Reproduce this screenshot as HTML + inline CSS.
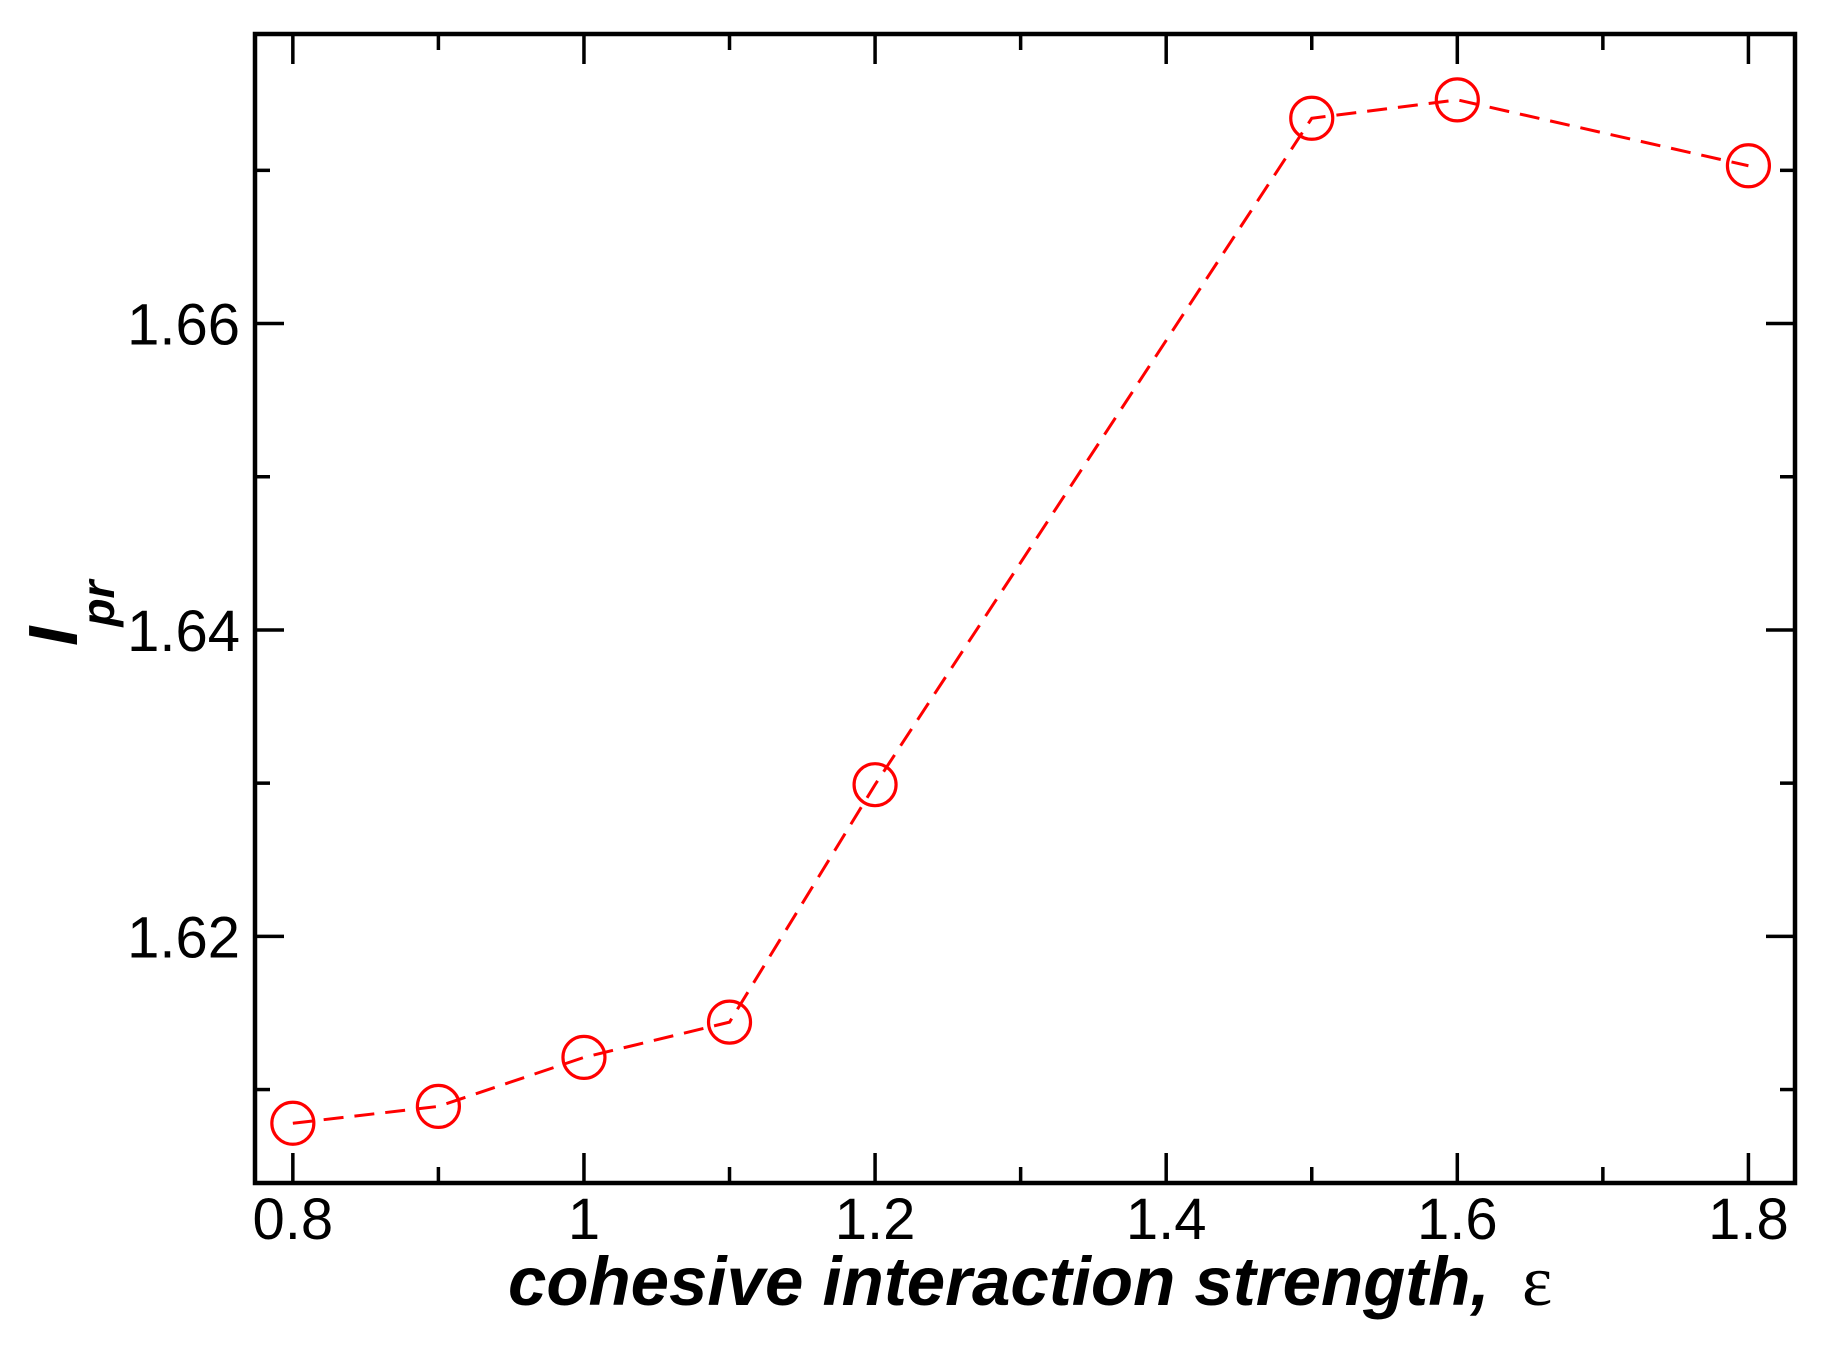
<!DOCTYPE html>
<html><head><meta charset="utf-8"><style>
html,body{margin:0;padding:0;background:#fff;}
svg{display:block;}
text{font-family:"Liberation Sans",sans-serif;}
</style></head><body>
<svg id="chart" width="1826" height="1352" viewBox="0 0 1826 1352" xmlns="http://www.w3.org/2000/svg">
<g id="axes"></g>
<g id="series"></g>
<text x="508" y="1305" font-size="69" font-weight="bold" font-style="italic">cohesive interaction strength,</text>
<text x="1522" y="1305" font-size="72" style="font-family:'Liberation Serif',serif">ε</text>
<text transform="translate(77,646) rotate(-90)" font-size="70" font-weight="bold" font-style="italic">I<tspan font-size="46" dy="37">pr</tspan></text>
</svg>
<script>
const xValues = [0.8, 0.9, 1.0, 1.1, 1.2, 1.5, 1.6, 1.8];
const yValues = [1.6078, 1.6089, 1.6121, 1.6144, 1.6299, 1.6734, 1.6746, 1.6703];
const xMajorTicks = [0.8, 1.0, 1.2, 1.4, 1.6, 1.8];
const xTickLabels = ["0.8", "1", "1.2", "1.4", "1.6", "1.8"];
const xMinorTicks = [0.9, 1.1, 1.3, 1.5, 1.7];
const yMajorTicks = [1.62, 1.64, 1.66];
const yTickLabels = ["1.62", "1.64", "1.66"];
const yMinorTicks = [1.61, 1.63, 1.65, 1.67];

const L = 255, R = 1795, T = 34, B = 1183;
const xMin = 0.774, xMax = 1.832, yMin = 1.6039, yMax = 1.6789;
function sx(v){ return L + (v - xMin) / (xMax - xMin) * (R - L); }
function sy(v){ return B - (v - yMin) / (yMax - yMin) * (B - T); }

const NS = "http://www.w3.org/2000/svg";
const axes = document.getElementById('axes');
const series = document.getElementById('series');
function mk(tag, attrs, parent){
  const e = document.createElementNS(NS, tag);
  for (const k in attrs) e.setAttribute(k, attrs[k]);
  parent.appendChild(e);
  return e;
}

const frame = mk('rect', {x:L, y:T, width:R-L, height:B-T, fill:'none', stroke:'#000', 'stroke-width':4.5}, axes);



xMajorTicks.forEach((v, i) => {
  const x = sx(v);
  const t1 = mk('line', {x1:x, y1:B, x2:x, y2:B-30, stroke:'#000', 'stroke-width':3.5}, axes);
  
  
  const t2 = mk('line', {x1:x, y1:T, x2:x, y2:T+30, stroke:'#000', 'stroke-width':3.5}, axes);
  
  
  const lb = mk('text', {x:x, y:1239, 'font-size':58, 'text-anchor':'middle'}, axes);
  lb.textContent = xTickLabels[i];
  
  
});
xMinorTicks.forEach(v => {
  const x = sx(v);
  const t1 = mk('line', {x1:x, y1:B, x2:x, y2:B-16, stroke:'#000', 'stroke-width':3.5}, axes);
  
  
  const t2 = mk('line', {x1:x, y1:T, x2:x, y2:T+16, stroke:'#000', 'stroke-width':3.5}, axes);
  
  
});
yMajorTicks.forEach((v, i) => {
  const y = sy(v);
  const t1 = mk('line', {x1:L, y1:y, x2:L+29, y2:y, stroke:'#000', 'stroke-width':3.5}, axes);
  
  
  const t2 = mk('line', {x1:R, y1:y, x2:R-29, y2:y, stroke:'#000', 'stroke-width':3.5}, axes);
  
  
  const lb = mk('text', {x:240, y:y+21, 'font-size':58, 'text-anchor':'end'}, axes);
  lb.textContent = yTickLabels[i];
  
  
});
yMinorTicks.forEach(v => {
  const y = sy(v);
  const t1 = mk('line', {x1:L, y1:y, x2:L+15, y2:y, stroke:'#000', 'stroke-width':3.5}, axes);
  
  
  const t2 = mk('line', {x1:R, y1:y, x2:R-15, y2:y, stroke:'#000', 'stroke-width':3.5}, axes);
  
  
});

const pts = xValues.map((v, i) => sx(v) + ',' + sy(yValues[i])).join(' ');
const line = mk('polyline', {points:pts, fill:'none', stroke:'#ff0000', 'stroke-width':3, 'stroke-dasharray':'20 11'}, series);


xValues.forEach((v, i) => {
  const c = mk('circle', {cx:sx(v), cy:sy(yValues[i]), r:21, fill:'none', stroke:'#ff0000', 'stroke-width':3.2}, series);
  
  
});
</script>
</body></html>
